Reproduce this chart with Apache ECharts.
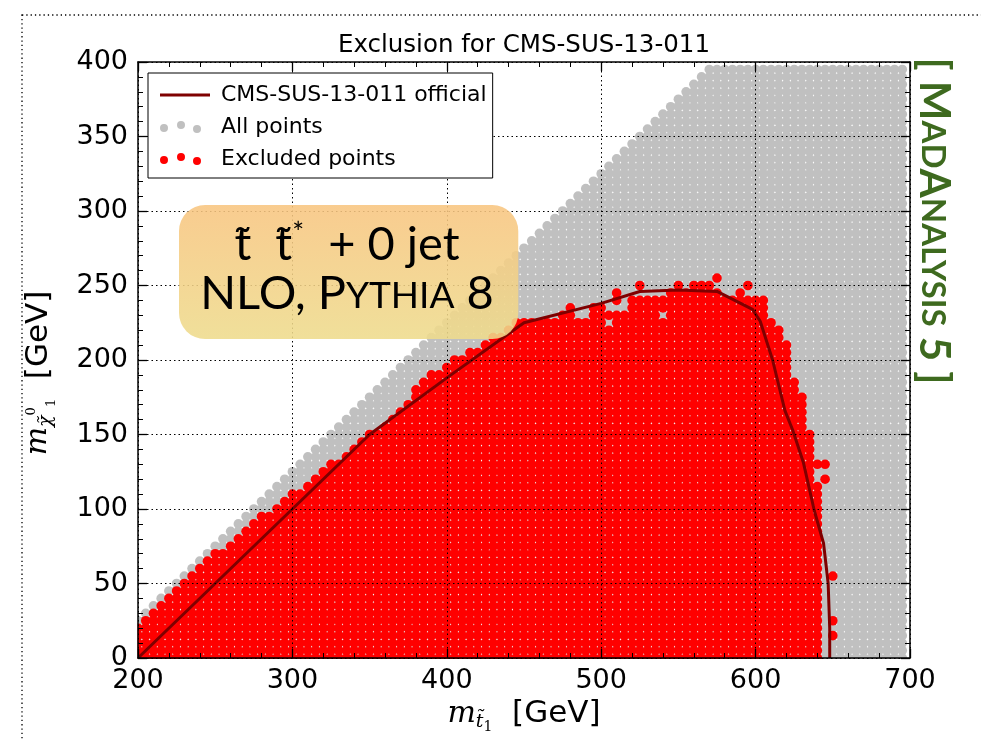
<!DOCTYPE html>
<html>
<head>
<meta charset="utf-8">
<script src="https://cdn.jsdelivr.net/npm/echarts@6/dist/echarts.min.js"></script>
<style>
  html, body { margin: 0; padding: 0; background: #fff; }
  #chart { width: 981px; height: 740px; }
</style>
</head>
<body>
<div id="chart"></div>
<script>
// grid of scanned points: one column every 5 GeV in m_stop, rows every 5 GeV in m_LSP
var colStart = 200
var colStep = 5
var rowStep = 5

// highest m_LSP of the scan in each m_stop column (200 .. 695)
var greyTop = [
  25, 30, 35, 40, 45, 50, 55, 60, 65, 70,
  75, 80, 85, 90, 95, 100, 105, 110, 115, 120,
  125, 130, 135, 140, 145, 150, 155, 160, 165, 170,
  175, 180, 185, 190, 195, 200, 205, 210, 215, 220,
  225, 230, 235, 240, 245, 250, 255, 260, 265, 270,
  275, 280, 285, 290, 295, 300, 305, 310, 315, 320,
  325, 330, 335, 340, 345, 350, 355, 360, 365, 370,
  375, 380, 385, 390, 395, 395, 395, 395, 395, 395,
  395, 395, 395, 395, 395, 395, 395, 395, 395, 395,
  395, 395, 395, 395, 395, 395, 395, 395, 395, 395
]

// highest excluded m_LSP in each m_stop column (200 .. 640)
var redTop = [
  20, 25, 30, 35, 40, 45, 50, 55, 60, 65,
  70, 70, 75, 80, 85, 90, 95, 95, 100, 105,
  110, 110, 115, 120, 125, 130, 130, 135, 140, 145,
  150, 150, 155, 160, 165, 170, 180, 185, 190, 190,
  195, 200, 200, 205, 205, 210, 215, 215, 220, 225,
  225, 225, 225, 225, 225, 230, 230, 225, 225, 230,
  230, 230, 230, 230, 240, 240, 240, 240, 240, 240,
  240, 240, 240, 240, 240, 240, 240, 240, 240, 240,
  240, 240, 225, 220, 210, 185, 175, 150, 115
]

// isolated excluded points outside the columns above
var redExtra = [
  [480, 235], [495, 235], [500, 235], [510, 240], [510, 245],
  [525, 250], [545, 245], [550, 245], [550, 250], [555, 245],
  [560, 245], [560, 250], [565, 245], [565, 250], [570, 245],
  [570, 250], [575, 245], [575, 255], [590, 245], [595, 250],
  [640, 130], [645, 130], [645, 120], [650, 55], [650, 25], [650, 15]
]
// points inside the red area that are not excluded
var redHoles = [[540, 230], [505, 225]]

// CMS-SUS-13-011 official contour
var officialX = [200, 350, 400, 450, 500, 525, 550, 575, 598, 603, 611, 619, 624, 631, 638, 644, 647, 648, 648]
var officialY = [0, 150, 188, 225, 238, 246, 247, 246, 234, 226, 200, 166, 153, 131, 99, 77, 50, 20, 0]

function columnPoints(tops, skip) {
  var pts = []
  for (var i = 0; i < tops.length; i++) {
    var x = colStart + i * colStep
    for (var y = 0; y <= tops[i]; y += rowStep) {
      var hole = skip.some(function (h) { return h[0] === x && h[1] === y })
      if (!hole) pts.push([x, y])
    }
  }
  return pts
}

var greyPts = columnPoints(greyTop, [])
var redPts = columnPoints(redTop, redHoles).concat(redExtra)
var officialLine = officialX.map(function (x, i) { return [x, officialY[i]] })

var chart = echarts.init(document.getElementById('chart'), null, { renderer: 'canvas' })

var tickFont = { fontFamily: 'DejaVu Sans', fontSize: 27, color: '#000' }
var dotted = { show: true, lineStyle: { color: '#000', width: 1, type: [1.5, 3] } }

function mainAxis(extra) {
  return Object.assign({
    type: 'value',
    z: 10,
    axisLine: { show: true, onZero: false, lineStyle: { color: '#000', width: 1.5 } },
    axisTick: { show: true, inside: true, length: 9, lineStyle: { color: '#000', width: 1.3 } },
    minorTick: { show: true, splitNumber: 5, length: 5, lineStyle: { color: '#000', width: 1 } },
    splitLine: { show: false },
    minorSplitLine: { show: false }
  }, extra)
}

// a plain box drawn with a title component (titles honour z)
function box(left, top, w, h, fill, z, r) {
  return {
    text: ' ', left: left, top: top, z: z,
    padding: [h / 2, w / 2], backgroundColor: fill, borderRadius: r || 0,
    textStyle: { fontSize: 1, color: 'rgba(0,0,0,0)' }
  }
}

// legend icons: a short bar, and three slightly scattered dots
var lineIcon = 'path://M0,0L50,0L50,3L0,3Z'
var dotsIcon = 'path://M0,7a4,4 0 1,0 8,0a4,4 0 1,0 -8,0Z' +
  'M17,4a4,4 0 1,0 8,0a4,4 0 1,0 -8,0Z' +
  'M33,8a4,4 0 1,0 8,0a4,4 0 1,0 -8,0Z' +
  'M49.9,0L50,0L50,0.1Z'

var boxFont = function (size, extra) {
  return Object.assign({ fontFamily: 'Lato', fontWeight: 'normal', fontSize: size, color: '#000', align: 'center', lineHeight: 49 }, extra || {})
}

chart.setOption({
  animation: false,
  backgroundColor: '#fff',
  title: [
    // strips hiding the halves of edge markers outside the frame
    box(100, 62, 37.3, 600, '#fff', 5),
    box(135, 659, 780, 12, '#fff', 5),
    // process box
    box(179, 205, 339, 133, {
      type: 'linear', x: 0, y: 0, x2: 0, y2: 1,
      colorStops: [{ offset: 0, color: 'rgba(248,197,128,0.88)' }, { offset: 1, color: 'rgba(238,219,140,0.88)' }]
    }, 15, 26),
    {
      text: '{a|t̃  t̃}{sup|*}{a|  + 0 jet}\n{a|NLO, P}{sc|YTHIA}{a| 8}',
      left: 347, top: 220, z: 16, padding: 0,
      textAlign: 'center', textVerticalAlign: 'top',
      textStyle: {
        fontWeight: 'normal',
        rich: {
          a: boxFont(47),
          sup: boxFont(28, { padding: [0, 0, 22, 0] }),
          sc: boxFont(37, { padding: [5, 0, 0, 0] })
        }
      }
    }
  ],
  legend: {
    left: 148, top: 73, z: 20,
    orient: 'vertical',
    selectedMode: false,
    backgroundColor: '#fff',
    borderColor: '#000', borderWidth: 1, borderRadius: 0,
    padding: [11, 6, 8, 12],
    itemWidth: 50, itemHeight: 12, itemGap: 10, itemTextGap: 14,
    textStyle: { fontFamily: 'DejaVu Sans', fontSize: 22, color: '#000', padding: [0, 0, 0, 6] },
    data: [
      { name: 'CMS-SUS-13-011 official', icon: lineIcon },
      { name: 'All points', icon: dotsIcon },
      { name: 'Excluded points', icon: dotsIcon }
    ]
  },
  grid: { left: 138, right: 71, top: 62, bottom: 82, containLabel: false, outerBoundsMode: 'none' },
  xAxis: [
    mainAxis({
      position: 'bottom', min: 200, max: 700, interval: 100,
      axisLabel: Object.assign({ margin: 9 }, tickFont),
      name: '{m|m}{s|t̃}{n|1}{g|  [GeV]}',
      nameLocation: 'middle',
      nameGap: 36,
      nameTextStyle: {
        rich: {
          m: { fontFamily: 'DejaVu Serif', fontStyle: 'italic', fontSize: 30, color: '#000' },
          s: { fontFamily: 'DejaVu Serif', fontStyle: 'italic', fontSize: 19, color: '#000', padding: [16, 0, 0, 0] },
          n: { fontFamily: 'DejaVu Serif', fontSize: 14, color: '#000', padding: [26, 0, 0, 0] },
          g: { fontFamily: 'DejaVu Sans', fontSize: 31, color: '#000' }
        }
      }
    }),
    mainAxis({
      position: 'top', min: 200, max: 700, interval: 100,
      axisLabel: { show: false },
      splitLine: dotted
    })
  ],
  yAxis: [
    mainAxis({
      position: 'left', min: 0, max: 400, interval: 50,
      axisLabel: Object.assign({ margin: 10 }, tickFont),
      name: '{m|m}{s|χ̃}{p|0}{n|1}{g|  [GeV]}',
      nameLocation: 'middle',
      nameRotate: 90,
      nameGap: 80,
      nameTextStyle: {
        rich: {
          m: { fontFamily: 'DejaVu Serif', fontStyle: 'italic', fontSize: 30, color: '#000' },
          s: { fontFamily: 'DejaVu Serif', fontStyle: 'italic', fontSize: 19, color: '#000', padding: [16, 0, 0, 0] },
          p: { fontFamily: 'DejaVu Serif', fontSize: 13, color: '#000', padding: [0, 0, 14, 0] },
          n: { fontFamily: 'DejaVu Serif', fontSize: 13, color: '#000', padding: [26, 0, 0, 0] },
          g: { fontFamily: 'DejaVu Sans', fontSize: 31, color: '#000', padding: [0, 26, 0, 0] }
        }
      }
    }),
    mainAxis({
      position: 'right', min: 0, max: 400, interval: 50,
      axisLabel: { show: false },
      splitLine: dotted
    })
  ],
  series: [
    {
      name: 'All points',
      type: 'scatter',
      data: greyPts,
      symbol: 'circle',
      symbolSize: 9.6,
      itemStyle: { color: '#c0c0c0', opacity: 1 },
      silent: true,
      large: false,
      progressive: 0,
      clip: false,
      z: 2
    },
    {
      name: 'Excluded points',
      type: 'scatter',
      data: redPts,
      symbol: 'circle',
      symbolSize: 9.6,
      itemStyle: { color: '#ff0000', opacity: 1 },
      silent: true,
      large: false,
      progressive: 0,
      clip: false,
      z: 3
    },
    {
      name: 'CMS-SUS-13-011 official',
      type: 'line',
      data: officialLine,
      showSymbol: false,
      symbol: 'none',
      lineStyle: { color: '#7f0000', width: 3 },
      itemStyle: { color: '#7f0000' },
      silent: true,
      z: 4
    }
  ],
  graphic: [
    // dotted figure border
    {
      type: 'rect', silent: true,
      shape: { x: 22, y: 15, width: 1000, height: 800 },
      style: { fill: 'none', stroke: '#000', lineWidth: 1.3, lineDash: [1.3, 3] }
    },
    {
      type: 'text', x: 524, y: 46,
      style: { text: 'Exclusion for CMS-SUS-13-011', fill: '#000', fontFamily: 'DejaVu Sans', fontSize: 24.5,
        align: 'center', verticalAlign: 'middle', textAlign: 'center', textVerticalAlign: 'middle' }
    },
    // MadAnalysis tag
    {
      type: 'text', x: 934, y: 221, rotation: -Math.PI / 2,
      style: {
        text: '{b|[ M}{s|AD}{b|A}{s|NALYSIS}{b| 5 ]}',
        align: 'center', verticalAlign: 'middle', textAlign: 'center', textVerticalAlign: 'middle',
        rich: {
          b: { fontFamily: 'Lato', fontWeight: 'bold', fontSize: 42, fill: '#3e6a1f', color: '#3e6a1f' },
          s: { fontFamily: 'Lato', fontWeight: 'bold', fontSize: 33, fill: '#3e6a1f', color: '#3e6a1f', padding: [3, 0, 0, 0] }
        }
      }
    }
  ]
})
</script>
</body>
</html>
